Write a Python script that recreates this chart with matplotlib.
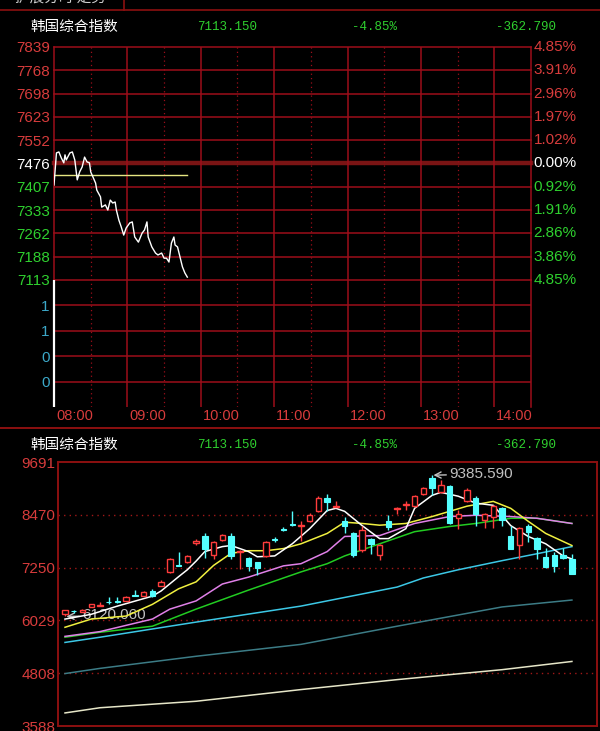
import numpy as np
import matplotlib
matplotlib.use("Agg")
import matplotlib.pyplot as plt
from matplotlib.lines import Line2D
from matplotlib import transforms

plt.rcParams['font.family'] = ['Liberation Sans', 'Noto Sans CJK SC', 'DejaVu Sans']

# ---- data -------------------------------------------------------------
index_name = "韩国综合指数"
last_price = 7113.150
change_pct = -4.85
change_abs = -362.790

# intraday (minutes after 08:00)
intraday_min = [0, 2, 4, 6, 8, 9, 10, 13, 15, 17, 19, 21, 23, 25, 27, 29, 30, 34, 35, 38,
                39, 42, 44, 46, 48, 50, 51, 53, 55, 57, 59, 62, 64, 66, 69, 72, 74, 76, 77, 80,
                83, 85, 88, 90, 92, 94, 96, 98, 99, 101, 103, 105, 107, 109]
intraday_val = [7409, 7509, 7512, 7493, 7478, 7503, 7487, 7509, 7512, 7487, 7425, 7450, 7465, 7496,
                7481, 7478, 7450, 7415, 7393, 7372, 7340, 7347, 7331, 7362, 7353, 7356, 7331, 7300,
                7278, 7253, 7275, 7291, 7294, 7247, 7231, 7259, 7269, 7294, 7247, 7216, 7197, 7191,
                7197, 7181, 7181, 7169, 7228, 7247, 7222, 7216, 7185, 7154, 7135, 7122]
avg_min = [0, 109]
avg_val = [7440, 7440]
vol_min = [0]
vol_val = [1.2]

price_labels = ["7839", "7768", "7698", "7623", "7552", "7476", "7407", "7333", "7262", "7188", "7113"]
pct_labels = ["4.85%", "3.91%", "2.96%", "1.97%", "1.02%", "0.00%", "0.92%", "1.91%", "2.86%", "3.86%", "4.85%"]
vol_ticks = [0.24, 0.48, 0.72, 0.96]
time_labels = ["08:00", "09:00", "10:00", "11:00", "12:00", "13:00", "14:00"]

# daily candles
k_open = [6170, 6255, 6230, 6340, 6370, 6465, 6475, 6480, 6615, 6600, 6720, 6830, 7150, 7310, 7380,
          7830, 7970, 7550, 7880, 7990, 7610, 7480, 7370, 7520, 7900, 8140, 8250, 8200, 8320, 8550,
          8850, 8650, 8330, 8060, 7660, 7920, 7530, 8320, 8600, 8700, 8680, 8940, 9320, 8990, 9130,
          8390, 8780, 8850, 8340, 8410, 8620, 7980, 7780, 8220, 7940, 7500, 7530, 7540, 7460]
k_close = [6260, 6235, 6265, 6400, 6395, 6450, 6460, 6570, 6600, 6680, 6600, 6920, 7440, 7295, 7520,
           7860, 7690, 7850, 8000, 7520, 7640, 7290, 7250, 7840, 7880, 8120, 8230, 8240, 8470, 8870,
           8770, 8680, 8200, 7530, 8130, 7790, 7780, 8180, 8630, 8730, 8910, 9090, 9090, 9150, 8270,
           8500, 9040, 8480, 8480, 8670, 8340, 7690, 8160, 8080, 7690, 7270, 7290, 7476, 7113]
k_high = [6275, 6270, 6285, 6415, 6450, 6580, 6560, 6590, 6740, 6700, 6760, 6960, 7470, 7600, 7550,
          7920, 8040, 7870, 8020, 8060, 7660, 7500, 7390, 7870, 7950, 8180, 8550, 8330, 8510, 8900,
          8940, 8790, 8430, 8080, 8200, 7940, 7800, 8460, 8660, 8790, 8930, 9120, 9386, 9270, 9160,
          8570, 9100, 8900, 8510, 8690, 8640, 8200, 8180, 8250, 7960, 7700, 7600, 7700, 7560]
k_low = [6120, 6200, 6215, 6330, 6360, 6410, 6420, 6470, 6590, 6590, 6580, 6820, 7130, 7280, 7360,
         7770, 7480, 7460, 7870, 7440, 7210, 7180, 7080, 7500, 7840, 8100, 8220, 7860, 8300, 8540,
         8550, 8640, 8060, 7500, 7620, 7570, 7430, 8130, 8500, 8580, 8660, 8920, 8920, 8970, 8260,
         8150, 8760, 8200, 8160, 8160, 8200, 7680, 7460, 7850, 7460, 7230, 7150, 7460, 7100]
high_label = "9385.590"
low_label = "6120.060"

ma5_idx = [0, 3, 6, 10, 11, 13, 14, 15, 16, 18, 19, 21, 22, 24, 26, 28, 30, 31, 32, 34, 36, 37, 39,
           40, 42, 43, 45, 47, 49, 51, 53, 55, 57, 58]
ma5_val = [6060, 6170, 6360, 6590, 6710, 7040, 7200, 7400, 7620, 7735, 7760, 7620, 7500, 7520, 7800,
           8150, 8570, 8620, 8550, 8220, 7920, 7920, 8150, 8620, 8920, 8990, 8900, 8740, 8690, 8220,
           7970, 7800, 7520, 7450]
ma10_idx = [0, 3, 7, 10, 13, 15, 17, 19, 21, 23, 25, 27, 30, 32, 34, 36, 39, 42, 44, 46, 49, 51, 53, 55, 58]
ma10_val = [5870, 6060, 6130, 6400, 6760, 6920, 7300, 7580, 7640, 7640, 7690, 7800, 8040, 8300, 8270,
            8230, 8270, 8430, 8550, 8670, 8780, 8620, 8320, 8040, 7760]
ma20_idx = [0, 4, 10, 12, 15, 18, 21, 25, 27, 30, 32, 36, 40, 44, 47, 51, 54, 58]
ma20_val = [5660, 5770, 6060, 6290, 6480, 6870, 7030, 7290, 7340, 7620, 7970, 7990, 8270, 8430, 8460,
            8430, 8390, 8270]
ma30_idx = [0, 4, 10, 15, 21, 27, 30, 32, 36, 40, 44, 47, 51, 54, 58]
ma30_val = [5640, 5755, 5895, 6290, 6730, 7150, 7340, 7520, 7800, 8080, 8200, 8270, 8390, 8390, 8270]
ma60_idx = [0, 4, 15, 27, 38, 41, 45, 50, 54, 58]
ma60_val = [5520, 5640, 5990, 6360, 6800, 7010, 7200, 7410, 7570, 7735]
ma120_idx = [0, 4, 15, 27, 38, 50, 58]
ma120_val = [4800, 4920, 5200, 5475, 5895, 6340, 6500]
ma250_idx = [0, 4, 15, 27, 38, 50, 58]
ma250_val = [3890, 4010, 4160, 4430, 4660, 4890, 5080]

k_ticks = [9691, 8470, 7250, 6029, 4808, 3588]

# ---- style -------------------------------------------------------------
W, H = 600, 731
RED = '#d83c3c'
GREEN = '#2fd02f'
GRID = '#9c0e1a'
FRAME = '#8c1010'
UP = '#ff3c3c'
DN = '#54ffff'
MONO = ['Liberation Mono', 'DejaVu Sans Mono']
CJK = ['Noto Sans CJK SC', 'DejaVu Sans']

fig = plt.figure(figsize=(W / 100, H / 100), dpi=100, facecolor='black')


def px_axes(x0, y0, x1, y1):
    a = fig.add_axes([x0 / W, 1 - y1 / H, (x1 - x0) / W, (y1 - y0) / H])
    a.set_facecolor('none')
    for s in a.spines.values():
        s.set_visible(False)
    return a


def fig_line(x0, y0, x1, y1, color=FRAME, lw=1.2):
    fig.add_artist(Line2D([x0 / W, x1 / W], [1 - y0 / H, 1 - y1 / H], color=color, lw=lw,
                          transform=fig.transFigure))


def header(y):
    fig.text(30 / W, 1 - y / H, index_name, color='white', fontsize=10.5, family=CJK, va='center')
    fig.text(197 / W, 1 - y / H, f"{last_price:.3f}", color=GREEN, fontsize=9, family=MONO, va='center')
    fig.text(352 / W, 1 - y / H, f"{change_pct:.2f}%", color=GREEN, fontsize=9, family=MONO, va='center')
    fig.text(496 / W, 1 - y / H, f"{change_abs:.3f}", color=GREEN, fontsize=9, family=MONO, va='center')


# top strip
fig.text(15 / W, 1 + 2 / H, "扩展分时 走势", color='#d0d0d0', fontsize=10.5, family=CJK, va='center')
fig_line(0, 10, W, 10)
fig_line(124, 0, 124, 10)
header(27)

# ---- intraday price panel -----------------------------------------------
ax = px_axes(54, 47, 531, 280)
ax.set_xlim(0, 390)
ax.set_ylim(7113, 7839)
rows = np.linspace(7113, 7839, 11)[::-1]
for k, r in enumerate(rows):
    if k == 5:
        ax.axhline(r, color='#7a1414', lw=3.2, clip_on=False, zorder=1)
    else:
        ax.axhline(r, color=GRID, lw=1.1, clip_on=False, zorder=1)
for m in range(30, 390, 30):
    if m % 60 == 0:
        ax.axvline(m, color=GRID, lw=1.1, zorder=1)
    else:
        ax.axvline(m, color=GRID, lw=0.9, ls=(0, (1, 2.5)), zorder=1)
ax.axvline(0, color=GRID, lw=1.1, clip_on=False)
ax.axvline(390, color=GRID, lw=1.1, clip_on=False)
ax.set_xticks([])
ax.set_yticks(rows)
ax.set_yticklabels(price_labels, fontsize=11)
ax.tick_params(axis='y', length=0, pad=3)
for k, (lab, r) in enumerate(zip(ax.get_yticklabels(), rows)):
    c = RED if k < 5 else ('white' if k == 5 else GREEN)
    lab.set_color(c)
    ax.text(1.005, r, pct_labels[k], color=c, fontsize=11, va='center', ha='left',
            transform=ax.get_yaxis_transform(), clip_on=False)
ax.plot(avg_min, avg_val, color='#e6e682', lw=1.0, zorder=3)
ax.plot(intraday_min, intraday_val, color='white', lw=1.0, zorder=4)

# volume panel
av = px_axes(54, 280, 531, 407)
av.set_xlim(0, 390)
av.set_ylim(0, 1.2)
for t in vol_ticks:
    av.axhline(t, color=GRID, lw=1.1, zorder=1)
for m in range(30, 390, 30):
    if m % 60 == 0:
        av.axvline(m, color=GRID, lw=1.1, zorder=1)
    else:
        av.axvline(m, color=GRID, lw=0.9, ls=(0, (1, 2.5)), zorder=1)
av.axvline(390, color=GRID, lw=1.1, clip_on=False)
av.vlines(vol_min, 0, vol_val, color='white', lw=1.6, clip_on=False, zorder=3)
av.set_xticks([])
av.set_yticks(vol_ticks)
av.set_yticklabels([f"{t:.0f}" for t in vol_ticks], fontsize=11, color='#3ca8c8')
av.tick_params(axis='y', length=0, pad=3)
toff = transforms.offset_copy(av.get_xaxis_transform(), fig=fig, x=2, y=0, units='dots')
for k, lab in enumerate(time_labels):
    av.text(k * 60, -0.071, lab, color=RED, fontsize=10.5, ha='left', va='center',
            transform=toff, clip_on=False)

fig_line(0, 428, W, 428, lw=1.4)

# ---- daily K panel ------------------------------------------------------
header(445)
ak = px_axes(58, 462, 597, 726)
for s in ak.spines.values():
    s.set_visible(True)
    s.set_color(FRAME)
    s.set_linewidth(1.4)
ak.set_ylim(3588, 9691)
ak.set_xlim(-0.8, 60.87)
for t in k_ticks[1:-1]:
    ak.axhline(t, color='#a01818', lw=1.0, ls=(0, (1, 3)), zorder=1)
ak.set_xticks([])
ak.set_yticks(k_ticks)
ak.set_yticklabels([str(t) for t in k_ticks], fontsize=11, color=RED)
ak.tick_params(axis='y', length=0, pad=2)

ak.plot(ma250_idx, ma250_val, color='#e6e6c8', lw=1.1, zorder=2)
ak.plot(ma120_idx, ma120_val, color='#3c7c86', lw=1.1, zorder=2)
ak.plot(ma60_idx, ma60_val, color='#3cc8e6', lw=1.1, zorder=2)
ak.plot(ma30_idx, ma30_val, color='#22cc22', lw=1.1, zorder=2)
ak.plot(ma20_idx, ma20_val, color='#e080e8', lw=1.1, zorder=2)
ak.plot(ma10_idx, ma10_val, color='#f0f040', lw=1.1, zorder=2)
ak.plot(ma5_idx, ma5_val, color='white', lw=1.1, zorder=2)

for i, (o, c, h, l) in enumerate(zip(k_open, k_close, k_high, k_low)):
    if c >= o:
        ak.vlines(i, c, h, color=UP, lw=1.0, zorder=3)
        ak.vlines(i, l, o, color=UP, lw=1.0, zorder=3)
        ak.bar(i, max(c - o, 6), bottom=o, width=0.62, facecolor='black', edgecolor=UP, lw=1.0, zorder=3)
    else:
        ak.vlines(i, l, h, color=DN, lw=1.0, zorder=3)
        ak.bar(i, max(o - c, 6), bottom=c, width=0.62, facecolor=DN, edgecolor=DN, lw=0.8, zorder=3)

hi_i = int(np.argmax(k_high))
lo_i = int(np.argmin(k_low))
ak.annotate(high_label, xy=(hi_i, k_high[hi_i]), xytext=(17, 1), textcoords='offset pixels',
            color='#c0c0c0', fontsize=11, va='center', ha='left', zorder=1,
            arrowprops=dict(arrowstyle='->', color='#c0c0c0', lw=1, shrinkA=0, shrinkB=1))
ak.annotate(low_label, xy=(lo_i, k_low[lo_i]), xytext=(17, 1), textcoords='offset pixels',
            color='#c0c0c0', fontsize=11, va='center', ha='left', zorder=1,
            arrowprops=dict(arrowstyle='->', color='#c0c0c0', lw=1, shrinkA=0, shrinkB=1))

fig.savefig("out.png", dpi=100, facecolor='black')
